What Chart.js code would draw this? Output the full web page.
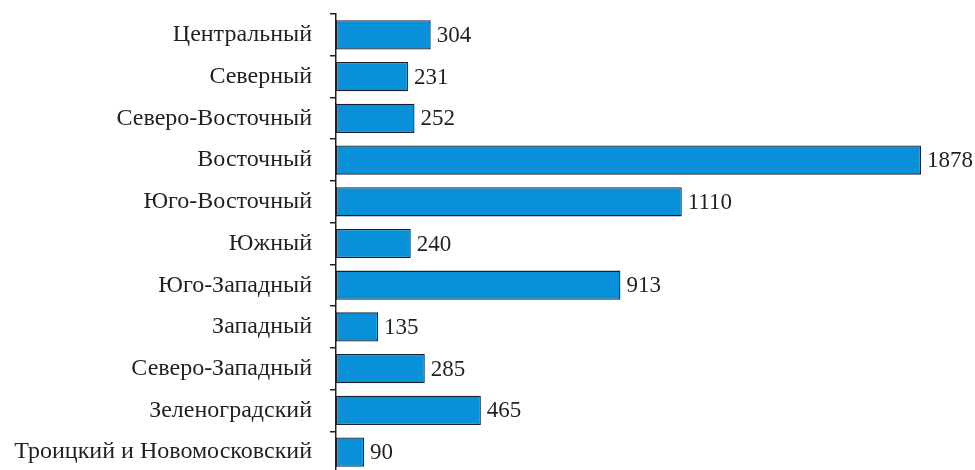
<!DOCTYPE html>
<html>
<head>
<meta charset="utf-8">
<script src="https://cdn.jsdelivr.net/npm/chart.js@4"></script>
<style>
  html, body { margin: 0; padding: 0; background: #fff; overflow: hidden; }
  #wrap { width: 975px; height: 473px; position: relative; }
</style>
</head>
<body>
<div id="wrap"><canvas id="grafico"></canvas></div>
<script>
// Округа и значения
const okruga = ['Центральный', 'Северный', 'Северо-Восточный', 'Восточный', 'Юго-Восточный',
  'Южный', 'Юго-Западный', 'Западный', 'Северо-Западный', 'Зеленоградский',
  'Троицкий и Новомосковский'];
const znacheniya = [304, 231, 252, 1878, 1110, 240, 913, 135, 285, 465, 90];

const shrift = '"Liberation Serif", "Times New Roman", serif';
const tsvetTeksta = '#231f20';

// подписи значений справа от столбцов
const podpisi = {
  id: 'podpisi',
  afterDatasetsDraw(chart) {
    const ctx = chart.ctx;
    const meta = chart.getDatasetMeta(0);
    ctx.save();
    ctx.font = '23px ' + shrift;
    ctx.fillStyle = tsvetTeksta;
    ctx.textBaseline = 'middle';
    ctx.textAlign = 'left';
    meta.data.forEach((bar, i) => {
      ctx.fillText(String(znacheniya[i]), bar.x + 6, bar.y + 1);
    });
    ctx.restore();
  }
};

new Chart(document.getElementById('grafico'), {
  type: 'bar',
  data: {
    labels: okruga,
    datasets: [{
      data: znacheniya,
      backgroundColor: '#0890d8',
      borderColor: '#1a1f2a',
      borderWidth: 1.3,
      borderSkipped: false,
      categoryPercentage: 1,
      barPercentage: 0.7
    }]
  },
  options: {
    indexAxis: 'y',
    responsive: true,
    maintainAspectRatio: false,
    animation: false,
    layout: { padding: { top: 14, right: 16, left: 0, bottom: 0 } },
    plugins: { legend: { display: false }, tooltip: { enabled: false } },
    scales: {
      x: { display: false, min: 0, max: 2000 },
      y: {
        afterFit: s => { s.width = 336; s.paddingTop = 0; s.paddingBottom = 0; },
        border: { display: true, color: '#231f20', width: 1.5 },
        grid: { drawOnChartArea: false, drawTicks: true, tickLength: 6, color: '#231f20', lineWidth: 1.5 },
        ticks: { color: tsvetTeksta, font: { family: shrift, size: 24 }, padding: 18 }
      }
    }
  },
  plugins: [podpisi]
});
</script>
</body>
</html>
